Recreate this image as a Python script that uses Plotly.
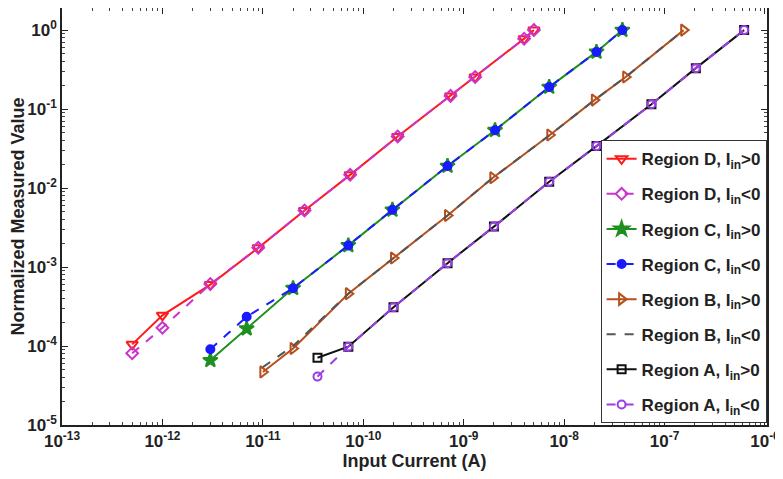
import plotly.graph_objects as go

# ---- data ----
D_x = [5e-13, 1e-12, 3e-12, 9e-12, 2.6e-11, 7.4e-11, 2.2e-10, 7.4e-10, 1.3e-9, 4e-9, 5e-9]
D_pos_y = [1.05e-4, 2.45e-4, 6.0e-4, 1.75e-3, 5.2e-3, 1.47e-2, 4.5e-2, 0.147, 0.255, 0.78, 1.0]
D_neg_y = [8.1e-5, 1.7e-4, 6.1e-4, 1.75e-3, 5.2e-3, 1.47e-2, 4.5e-2, 0.147, 0.255, 0.78, 1.0]

C_x = [3e-12, 6.9e-12, 2e-11, 7.1e-11, 1.95e-10, 6.9e-10, 2.05e-9, 7.1e-9, 2.1e-8, 3.8e-8]
C_pos_y = [6.6e-5, 1.66e-4, 5.4e-4, 1.88e-3, 5.3e-3, 1.9e-2, 5.4e-2, 0.19, 0.53, 1.0]
C_neg_y = [9.1e-5, 2.35e-4, 5.4e-4, 1.88e-3, 5.3e-3, 1.9e-2, 5.4e-2, 0.19, 0.53, 1.0]

B_x = [1e-11, 2e-11, 7.1e-11, 2e-10, 6.9e-10, 1.95e-9, 7.2e-9, 2e-8, 4.1e-8, 1.55e-7]
B_pos_y = [4.7e-5, 9.3e-5, 4.6e-4, 1.3e-3, 4.5e-3, 1.35e-2, 4.7e-2, 0.13, 0.255, 1.0]
B_neg_y = [5.4e-5, 1.0e-4, 4.6e-4, 1.3e-3, 4.5e-3, 1.35e-2, 4.7e-2, 0.13, 0.255, 1.0]

A_x = [3.5e-11, 7.1e-11, 2e-10, 6.9e-10, 2e-9, 7.1e-9, 2.1e-8, 7.4e-8, 2.05e-7, 6.2e-7]
A_pos_y = [7.1e-5, 9.8e-5, 3.1e-4, 1.12e-3, 3.25e-3, 1.2e-2, 3.4e-2, 0.115, 0.33, 1.0]
A_neg_y = [4.1e-5, 9.8e-5, 3.1e-4, 1.12e-3, 3.25e-3, 1.2e-2, 3.4e-2, 0.115, 0.33, 1.0]

x_tick_exp = [-13, -12, -11, -10, -9, -8, -7, -6]
y_tick_exp = [-5, -4, -3, -2, -1, 0]

names = [
    "Region D, I<sub>in</sub>>0", "Region D, I<sub>in</sub><0",
    "Region C, I<sub>in</sub>>0", "Region C, I<sub>in</sub><0",
    "Region B, I<sub>in</sub>>0", "Region B, I<sub>in</sub><0",
    "Region A, I<sub>in</sub>>0", "Region A, I<sub>in</sub><0",
]

series = [
    (D_x, D_pos_y, "#ff1a1a", "solid", "triangle-down-open", 10),
    (D_x, D_neg_y, "#cc33cc", "dash", "diamond-open", 9),
    (C_x, C_pos_y, "#1f8f1f", "solid", "star", 11),
    (C_x, C_neg_y, "#1a1aff", "dash", "circle", 8),
    (B_x, B_pos_y, "#b5501c", "solid", "triangle-right-open", 10),
    (B_x, B_neg_y, "#555555", "dash", None, 0),
    (A_x, A_pos_y, "#111111", "solid", "square-open", 8),
    (A_x, A_neg_y, "#9a3ee6", "dash", "circle-open", 8),
]

fig = go.Figure()
for i, (xs, ys, col, dash, sym, sz) in enumerate(series):
    mode = "lines+markers" if sym else "lines"
    marker = dict(symbol=sym, size=sz, color=col, line=dict(color=col, width=2)) if sym else None
    fig.add_trace(go.Scatter(
        x=xs, y=ys, mode=mode, name=names[i], legendgroup=f"g{i}",
        line=dict(color=col, width=2, dash=dash),
        marker=marker,
    ))

FAM = "Liberation Sans, Arial, sans-serif"
tick_font = dict(family=FAM, size=17, color="#222", weight="bold")
title_font = dict(family=FAM, size=18, color="#222", weight="bold")

axis_common = dict(
    type="log", showgrid=False, zeroline=False, automargin=False,
    showline=True, linecolor="#222", linewidth=1.5, mirror="allticks",
    ticks="inside", ticklen=6, tickwidth=1, tickcolor="#222",
    tickfont=tick_font,
    minor=dict(ticks="inside", ticklen=3, tickcolor="#444", dtick="D1", showgrid=False),
)

# page body has an 8px default margin, so the figure is sized to fit beside it
fig.update_layout(
    width=775, height=471,
    margin=dict(l=54, r=16, t=0, b=54),
    paper_bgcolor="white", plot_bgcolor="white",
    font=tick_font,
    showlegend=True,
    legend=dict(
        x=0.764, y=0.683, xanchor="left", yanchor="top",
        bgcolor="white", bordercolor="#333", borderwidth=1,
        font=dict(family=FAM, size=17, color="#222", weight="bold"),
        tracegroupgap=10, itemwidth=30,
    ),
    xaxis=dict(axis_common, range=[-13, -5.98],
               tickvals=[10.0 ** e for e in x_tick_exp],
               ticktext=[f"10<sup>{e}</sup>" for e in x_tick_exp],
               title=dict(text="Input Current (A)", font=title_font, standoff=2)),
    yaxis=dict(axis_common, range=[-5, 0.28],
               tickvals=[10.0 ** e for e in y_tick_exp],
               ticktext=[f"10<sup>{e}</sup>" for e in y_tick_exp],
               title=dict(text="Normalized Measured Value", font=title_font, standoff=4)),
)

fig.write_html("out.html")
